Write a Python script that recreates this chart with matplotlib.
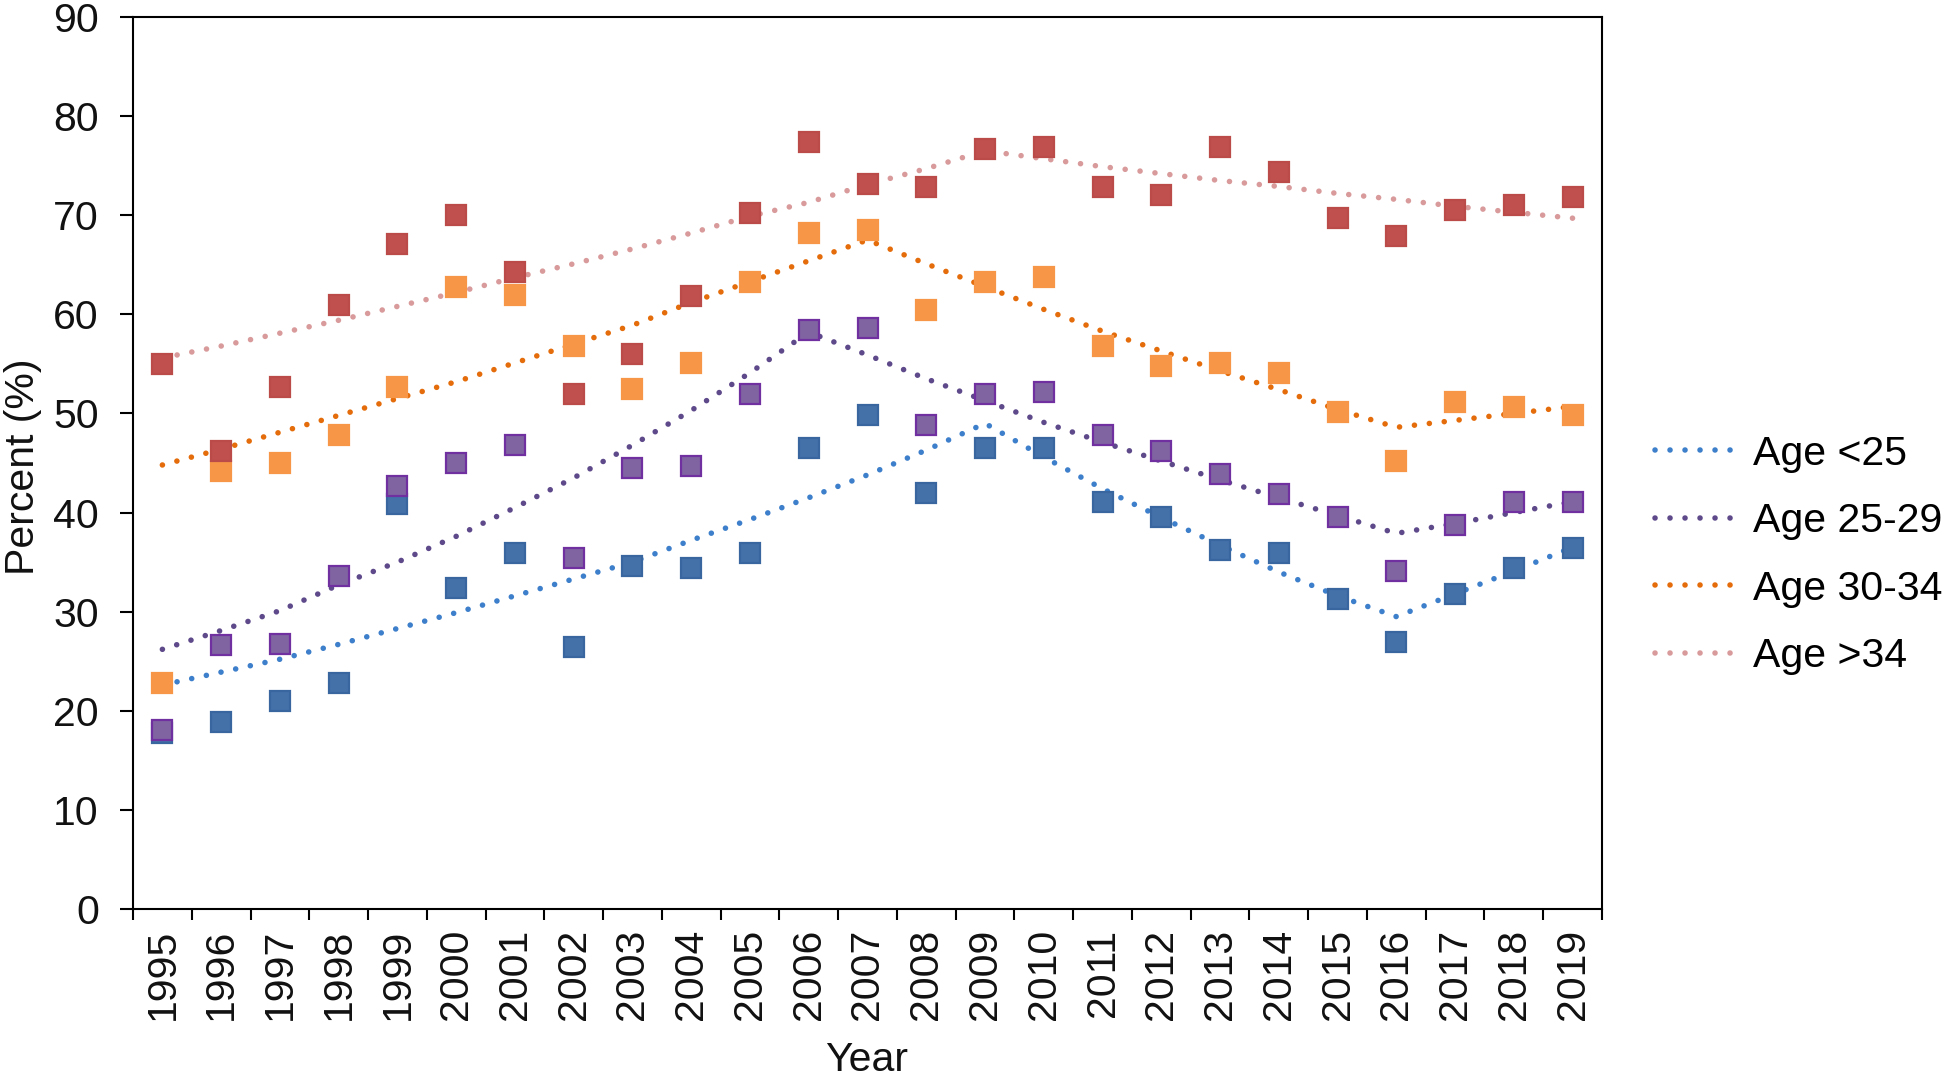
"""
Share of births by maternal age group, 1995-2019,
observed points with joinpoint trend lines
"""

import numpy as np
import matplotlib
matplotlib.use("Agg")
import matplotlib.pyplot as plt

plt.rcParams['font.family'] = ['Liberation Sans', 'DejaVu Sans']

years = list(range(1995, 2020))
labels = ['Age <25', 'Age 25-29', 'Age 30-34', 'Age >34']

# observed values (%)
obs_lt25 = [17.8, 18.9, 21.0, 22.8, 40.9, 32.4, 35.9, 26.4, 34.6, 34.4,
            35.9, 46.5, 49.8, 42.0, 46.5, 46.5, 41.1, 39.6, 36.2, 35.9,
            31.3, 26.9, 31.8, 34.4, 36.4]
obs_25_29 = [18.1, 26.6, 26.7, 33.6, 42.7, 45.0, 46.8, 35.4, 44.5, 44.7,
             52.0, 58.4, 58.6, 48.8, 52.0, 52.2, 47.8, 46.2, 43.9, 41.9,
             39.6, 34.1, 38.7, 41.1, 41.1]
obs_30_34 = [22.8, 44.2, 45.0, 47.8, 52.7, 62.8, 62.0, 56.8, 52.5, 55.1,
             63.3, 68.2, 68.5, 60.4, 63.3, 63.8, 56.8, 54.8, 55.1, 54.1,
             50.1, 45.2, 51.2, 50.7, 49.8]
obs_gt34 = [55.0, 46.2, 52.7, 60.9, 67.1, 70.0, 64.3, 52.0, 56.0, 61.8,
            70.2, 77.4, 73.1, 72.8, 76.7, 76.9, 72.8, 72.0, 76.9, 74.4,
            69.7, 67.9, 70.5, 71.0, 71.8]

# fitted trend values (%)
fit_lt25 = [22.6, 23.9, 25.2, 26.7, 28.3, 29.9, 31.6, 33.3, 35.0, 37.2,
            39.3, 41.5, 43.8, 46.3, 49.0, 45.6, 42.4, 39.5, 36.7, 34.0,
            31.6, 29.5, 31.8, 34.1, 36.5]
fit_25_29 = [26.2, 28.1, 30.1, 32.7, 35.0, 37.6, 40.5, 43.5, 46.8, 50.3,
             54.1, 58.2, 55.9, 53.5, 51.3, 49.1, 47.1, 45.2, 43.3, 41.5,
             39.7, 37.9, 38.9, 40.0, 41.1]
fit_30_34 = [44.8, 46.4, 48.1, 49.8, 51.5, 53.2, 55.1, 57.0, 58.9, 61.2,
             63.3, 65.4, 67.5, 65.1, 62.8, 60.5, 58.3, 56.3, 54.3, 52.4,
             50.4, 48.6, 49.3, 50.0, 50.7]
fit_gt34 = [55.6, 56.8, 58.1, 59.4, 60.8, 62.2, 63.7, 65.1, 66.6, 68.2,
            69.9, 71.3, 73.1, 74.7, 76.5, 75.7, 74.9, 74.2, 73.5, 72.9,
            72.2, 71.6, 70.9, 70.3, 69.7]

observed = [obs_lt25, obs_25_29, obs_30_34, obs_gt34]
fitted = [fit_lt25, fit_25_29, fit_30_34, fit_gt34]

sq_face = ['#4471a8', '#8064a2', '#f79646', '#c0504d']
sq_edge = ['#3a66a0', '#7030a0', '#f79646', '#bb4b48']
line_col = ['#3d7fca', '#5e4a8a', '#e46c0a', '#d99a9b']

fig = plt.figure(figsize=(19.46, 10.76), dpi=100)
ax = fig.add_axes([133 / 1946, 1 - 909 / 1076, 1469 / 1946, 892 / 1076])

FS = 29.5
handles = []
for i in range(4):
    ln, = ax.plot(years, fitted[i], color=line_col[i], lw=4.0,
                  linestyle=(0, (0.01, 2.69)), dash_capstyle='round',
                  zorder=2, label=labels[i])
    handles.append(ln)

# draw squares: blue, purple, orange, red (red on top)
for i in [0, 1, 2, 3]:
    ax.plot(years, observed[i], linestyle='none', marker='s', ms=14.4,
            mfc=sq_face[i], mec=sq_edge[i], mew=1.6, zorder=3)

ax.set_xlim(1994.5, 2019.5)
ax.set_ylim(0, 90)
ax.set_yticks(np.arange(0, 91, 10))
ax.set_xticks(years)
ax.set_xticklabels([str(y) for y in years], rotation=90)
ax.set_xticks(np.arange(1994.5, 2020, 1), minor=True)

ax.tick_params(axis='x', which='major', length=0, pad=14, labelsize=FS,
               colors='#111111')
ax.tick_params(axis='x', which='minor', length=8, width=1.5,
               direction='out', color='black')
ax.tick_params(axis='y', length=9.5, width=1.5, direction='out', pad=15,
               labelsize=FS, colors='#111111')
ax.tick_params(axis='y', color='black')
for sp in ax.spines.values():
    sp.set_linewidth(1.5)
    sp.set_color('black')

fig.text(23 / 1946, 1 - 467 / 1076, 'Percent (%)', rotation=90,
         ha='center', va='center', fontsize=FS, color='#111111')
fig.text(867 / 1946, 1 - 1071 / 1076, 'Year', ha='center', va='baseline',
         fontsize=FS, color='#111111')

fig.legend(handles=handles, loc='center left',
           bbox_to_anchor=(1655 / 1946, 1 - 555 / 1076), frameon=False,
           fontsize=FS, handlelength=2.0, handletextpad=0.38,
           labelspacing=0.72, borderpad=0, borderaxespad=0)

fig.savefig('out.png', dpi=100)
